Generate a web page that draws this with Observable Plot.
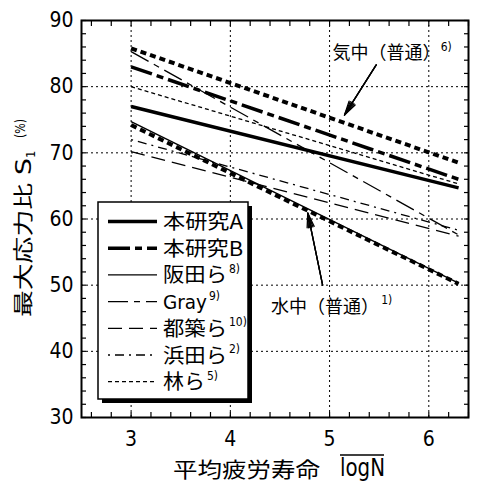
<!DOCTYPE html>
<html><head><meta charset="utf-8">
<script src="https://cdn.jsdelivr.net/npm/d3@7"></script>
<script src="https://cdn.jsdelivr.net/npm/@observablehq/plot@0.6"></script>
<style>body{margin:0;background:#fff}</style>
</head><body><div id="chart"></div>
<script>
// ---- data ----
const seriesNames = ["気中（普通）","本研究B","本研究A","林ら","Gray","浜田ら","都築ら","阪田ら","水中（普通）"];
const logN = [3, 6.3];
const startS = [85.8, 83.0, 77.0, 80.0, 85.3, 72.0, 70.2, 74.7, 74.2];
const endS   = [68.5, 66.0, 64.7, 65.3, 57.6, 58.3, 57.4, 50.3, 50.2];
const legendNames = ["本研究A","本研究B","阪田ら","Gray","都築ら","浜田ら","林ら"];
const legendRefs  = ["","","8)","9)","10)","2)","5)"];
const xTicks = [3,4,5,6];
const yTicks = [30,40,50,60,70,80,90];
const xMinor = d3.range(26, 65, 2).map(d => d/10);
const yMinor = d3.range(30, 91, 2);
const annotText = ["気中（普通）","水中（普通）"];
const annotRef  = ["6)","1)"];
const annotX = [5.03, 4.41], annotY = [85.0, 46.7];
const annotRefX = [6.12, 5.52], annotRefY = [85.9, 47.7];
const arrowX1 = [5.47, 4.93], arrowY1 = [83.3, 50.0];
const arrowX2 = [5.15, 4.78], arrowY2 = [75.7, 60.9];

// ---- styles ----
const lineStyle = {
  "本研究A": {w:3.5, dash:null},
  "本研究B": {w:3.5, dash:"22,5,7,5"},
  "阪田ら": {w:1.4, dash:null},
  "Gray": {w:1.3, dash:"20,6,6,6"},
  "都築ら": {w:1.3, dash:"14,7"},
  "浜田ら": {w:1.3, dash:"2,5,9,5"},
  "林ら": {w:1.3, dash:"4,3"},
  "気中（普通）": {w:4, dash:"6,4"},
  "水中（普通）": {w:4, dash:"6,4"}
};
const CJK = "'Noto Sans CJK JP', sans-serif";
const LAT = "'DejaVu Sans Condensed','DejaVu Sans',sans-serif";

const lineMarks = seriesNames.map((name, i) => Plot.line([0,1], {
  x: j => logN[j], y: j => j ? endS[i] : startS[i],
  stroke: "black", strokeWidth: lineStyle[name].w,
  strokeDasharray: lineStyle[name].dash || undefined,
  strokeLinecap: "butt"
}));

const gridStyle = {stroke:"black", strokeOpacity:1, strokeWidth:1, strokeDasharray:"2,3"};
const ai = [0,1];
const arrowMarks = [28, 18, 8].map(a => Plot.arrow(ai, {
  x1: i => arrowX1[i], y1: i => arrowY1[i], x2: i => arrowX2[i], y2: i => arrowY2[i],
  stroke:"black", strokeWidth:1.3, headLength:17, headAngle:a
}));

const plot = Plot.plot({
  width: 478, height: 484,
  marginLeft: 81, marginRight: 10, marginTop: 20, marginBottom: 67,
  x: {domain: [2.5, 6.4]},
  y: {domain: [30, 90]},
  style: {fontFamily: LAT, fontSize: "21px", color: "black", background: "white", overflow: "visible"},
  marks: [
    Plot.gridX(xTicks, gridStyle),
    Plot.gridY(yTicks.slice(1, -1), gridStyle),
    ...lineMarks,
    Plot.axisX(xMinor, {anchor:"bottom", tickSize:5, dy:-5, tickFormat: () => "", label:null, strokeWidth:1.2}),
    Plot.axisX(xMinor, {anchor:"top", tickSize:5, dy:5, tickFormat: () => "", label:null, strokeWidth:1.2}),
    Plot.axisY(yMinor, {anchor:"left", tickSize:5, dx:5, tickFormat: () => "", label:null, strokeWidth:1.2}),
    Plot.axisY(yMinor, {anchor:"right", tickSize:5, dx:-5, tickFormat: () => "", label:null, strokeWidth:1.2}),
    Plot.axisX(xTicks, {anchor:"bottom", tickSize:0, tickPadding:14, label:null, fontSize:21}),
    Plot.axisY(yTicks, {anchor:"left", tickSize:0, tickPadding:8, label:null, fontSize:21}),
    Plot.frame({stroke:"black", strokeWidth:2}),
    Plot.text(ai, {x: i => annotX[i], y: i => annotY[i], text: i => annotText[i], textAnchor:"start", fontSize:18, fontFamily:CJK, fill:"black"}),
    Plot.text(ai, {x: i => annotRefX[i], y: i => annotRefY[i], text: i => annotRef[i], textAnchor:"start", fontSize:12, fontFamily:LAT, fill:"black"}),
    ...arrowMarks
  ]
});
document.getElementById("chart").appendChild(plot);

// ---- legend & axis titles ----
const svg = d3.select(plot);
const lg = svg.append("g").attr("text-anchor", "start");
const bx = 98, by = 202, bw = 150, bh = 197;
lg.append("rect").attr("x", bx+4).attr("y", by+4).attr("width", bw).attr("height", bh).attr("fill", "black");
lg.append("rect").attr("x", bx).attr("y", by).attr("width", bw).attr("height", bh).attr("fill", "white").attr("stroke", "black").attr("stroke-width", 1.5);
const legendLen = {"本研究A":80,"本研究B":80,"阪田ら":64,"Gray":44,"都築ら":64,"浜田ら":64,"林ら":42};
legendNames.forEach((name, i) => {
  const cy = 221.5 + 26.7 * i;
  const st = lineStyle[name];
  lg.append("line").attr("x1", 108).attr("x2", 157).attr("y1", cy).attr("y2", cy)
    .attr("stroke", "black").attr("stroke-width", st.w).attr("stroke-dasharray", st.dash);
  lg.append("text").attr("x", 163).attr("y", cy + 7.5)
    .attr("font-family", name === "Gray" ? LAT : CJK).attr("font-size", 20)
    .attr("textLength", legendLen[name]).attr("lengthAdjust", "spacingAndGlyphs")
    .text(name);
  if (legendRefs[i]) lg.append("text").attr("x", 163 + legendLen[name] + 2).attr("y", cy - 2)
    .attr("font-family", LAT).attr("font-size", 12).text(legendRefs[i]);
});

// x title
const xt = svg.append("g").attr("text-anchor", "start");
xt.append("text").attr("x", 173).attr("y", 477).attr("font-family", CJK).attr("font-size", 21)
  .attr("textLength", 147).attr("lengthAdjust", "spacingAndGlyphs").text("平均疲労寿命");
xt.append("text").attr("x", 340).attr("y", 476).attr("font-family", LAT).attr("font-size", 24)
  .attr("textLength", 45).attr("lengthAdjust", "spacingAndGlyphs").text("logN");
xt.append("line").attr("x1", 340).attr("x2", 384).attr("y1", 455).attr("y2", 455).attr("stroke", "black").attr("stroke-width", 1.5);

// y title
const yt = svg.append("g").attr("text-anchor", "start").attr("transform", "translate(31,317) rotate(-90)");
yt.append("text").attr("x", 0).attr("y", 0).attr("font-family", CJK).attr("font-size", 20)
  .attr("textLength", 134).attr("lengthAdjust", "spacingAndGlyphs").text("最大応力比");
yt.append("text").attr("x", 142).attr("y", 0).attr("font-family", LAT).attr("font-size", 22)
  .attr("textLength", 17).attr("lengthAdjust", "spacingAndGlyphs").text("S");
yt.append("text").attr("x", 159).attr("y", 4).attr("font-family", LAT).attr("font-size", 13).text("1");
yt.append("text").attr("x", 179).attr("y", -6).attr("font-family", LAT).attr("font-size", 14)
  .attr("textLength", 19).attr("lengthAdjust", "spacingAndGlyphs").text("(%)");
</script>
</body></html>
